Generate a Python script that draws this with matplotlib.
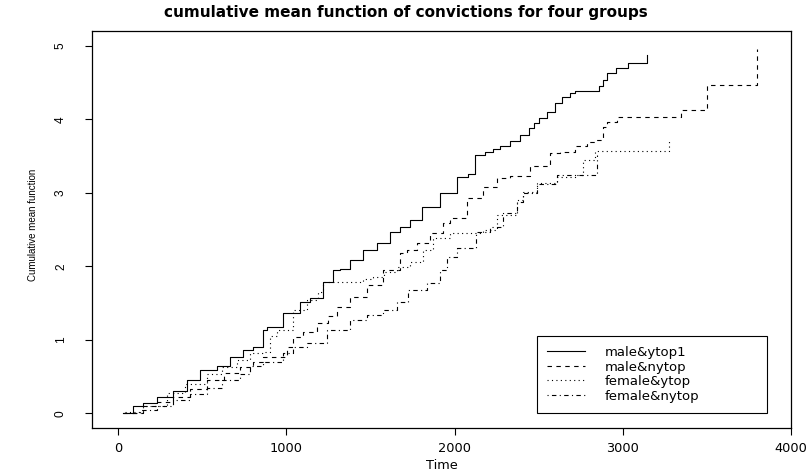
import numpy as np
import matplotlib
matplotlib.use("Agg")
import matplotlib.pyplot as plt

# step data (time, cumulative mean)
t_male_ytop1 = [30, 89, 149, 232, 327, 410, 487, 588, 666, 743, 802, 862, 886, 981, 1082, 1141,
                1218, 1278, 1319, 1379, 1456, 1539, 1617, 1676, 1735, 1807, 1914, 2015, 2080, 2122,
                2181, 2230, 2270, 2330, 2389, 2440, 2470, 2502, 2550, 2597, 2640, 2687, 2716, 2859,
                2880, 2905, 2960, 3031, 3144]
y_male_ytop1 = [0.00, 0.10, 0.14, 0.22, 0.31, 0.45, 0.59, 0.65, 0.76, 0.86, 0.90, 1.13, 1.17, 1.36, 1.51, 1.57,
                1.78, 1.95, 1.96, 2.08, 2.22, 2.32, 2.47, 2.53, 2.63, 2.81, 3.00, 3.22, 3.26, 3.51,
                3.56, 3.60, 3.64, 3.70, 3.79, 3.88, 3.95, 4.02, 4.10, 4.22, 4.30, 4.36, 4.38, 4.45,
                4.54, 4.63, 4.70, 4.77, 4.88]

t_male_nytop = [30, 150, 232, 327, 430, 529, 630, 725, 800, 862, 1004, 1040, 1100, 1183, 1250, 1302,
                1379, 1480, 1575, 1676, 1718, 1777, 1854, 1932, 1973, 2074, 2169, 2253, 2330, 2449,
                2568, 2627, 2716, 2787, 2840, 2880, 2905, 2964, 3346, 3500, 3798]
y_male_nytop = [0.01, 0.10, 0.16, 0.22, 0.33, 0.45, 0.55, 0.63, 0.70, 0.76, 0.90, 1.04, 1.10, 1.23, 1.33, 1.45,
                1.58, 1.74, 1.95, 2.18, 2.22, 2.32, 2.45, 2.59, 2.65, 2.93, 3.08, 3.20, 3.23, 3.37,
                3.54, 3.56, 3.63, 3.69, 3.72, 3.90, 3.96, 4.03, 4.13, 4.47, 4.95]

t_female_ytop = [40, 150, 291, 400, 529, 620, 707, 785, 862, 903, 945, 1040, 1123, 1189, 1218, 1456,
                 1516, 1580, 1658, 1735, 1813, 1872, 1973, 2169, 2253, 2372, 2407, 2490, 2609, 2728,
                 2764, 2835, 3275]
y_female_ytop = [0.02, 0.10, 0.27, 0.40, 0.54, 0.63, 0.72, 0.82, 0.83, 1.05, 1.13, 1.40, 1.54, 1.65, 1.78, 1.82,
                 1.85, 1.92, 1.99, 2.06, 2.22, 2.38, 2.45, 2.49, 2.70, 2.90, 3.01, 3.13, 3.22, 3.24,
                 3.45, 3.57, 3.72]

t_female_nytop = [60, 131, 230, 327, 430, 529, 620, 725, 785, 862, 981, 1040, 1123, 1242, 1379, 1480,
                  1575, 1658, 1724, 1837, 1914, 1955, 2015, 2128, 2211, 2288, 2372, 2407, 2490, 2609,
                  2847]
y_female_nytop = [0.00, 0.04, 0.10, 0.18, 0.26, 0.35, 0.45, 0.54, 0.65, 0.70, 0.82, 0.90, 0.95, 1.13, 1.27, 1.34,
                  1.40, 1.51, 1.68, 1.77, 1.95, 2.13, 2.25, 2.47, 2.53, 2.72, 2.87, 3.00, 3.12, 3.24,
                  3.52]

labels = ["male&ytop1", "male&nytop", "female&ytop", "female&nytop"]
x_ticks = [0, 1000, 2000, 3000, 4000]
y_ticks = [0, 1, 2, 3, 4, 5]

plt.rcParams['font.family'] = ['DejaVu Sans']

fig = plt.figure(figsize=(8.09, 4.73), dpi=100)
ax = fig.add_axes([92/809, 1-428/473, (791-92)/809, (428-31)/473])

lw = 0.8
ax.plot(t_male_ytop1, y_male_ytop1, drawstyle='steps-post', color='black', lw=lw, linestyle='-', label=labels[0])
ax.plot(t_male_nytop, y_male_nytop, drawstyle='steps-post', color='black', lw=lw, linestyle=(0, (4, 4)), label=labels[1])
ax.plot(t_female_ytop, y_female_ytop, drawstyle='steps-post', color='black', lw=lw, linestyle=(0, (1, 3)), label=labels[2])
ax.plot(t_female_nytop, y_female_nytop, drawstyle='steps-post', color='black', lw=lw, linestyle=(0, (1, 3, 4, 3)), label=labels[3])

ax.set_xlim(-155, 4000)
ax.set_ylim(-0.2, 5.2)
ax.set_xticks(x_ticks)
ax.set_yticks(y_ticks)
ax.set_xticklabels([str(v) for v in x_ticks], fontsize=9.3)
ax.set_yticklabels([str(v) for v in y_ticks], fontsize=8.6, rotation=90, va='center',
                   family='Liberation Sans')
ax.tick_params(direction='out', length=5, width=0.8)
ax.tick_params(axis='x', pad=5)
ax.tick_params(axis='y', pad=13)
for s in ax.spines.values():
    s.set_linewidth(0.9)

ax.set_xlabel("Time", fontsize=9.3, labelpad=3)
fig.text(33/809, 1-225/473, "Cumulative mean function", rotation=90, ha='center', va='center',
         fontsize=7, family='Liberation Sans')
ax.set_title("cumulative mean function of convictions for four groups", fontsize=11,
             fontweight='bold', pad=10, x=0.449)

leg = ax.legend(loc='upper left', bbox_to_anchor=((537-92)/699, (428-340)/397, 230/699, 0.01),
                mode='expand', fontsize=9.5, frameon=True, fancybox=False, edgecolor='black',
                framealpha=1, handlelength=2.9, handletextpad=1.45, borderpad=0.75,
                labelspacing=0.12, borderaxespad=0)
leg.get_frame().set_linewidth(0.8)

fig.savefig("out.png", dpi=100)
